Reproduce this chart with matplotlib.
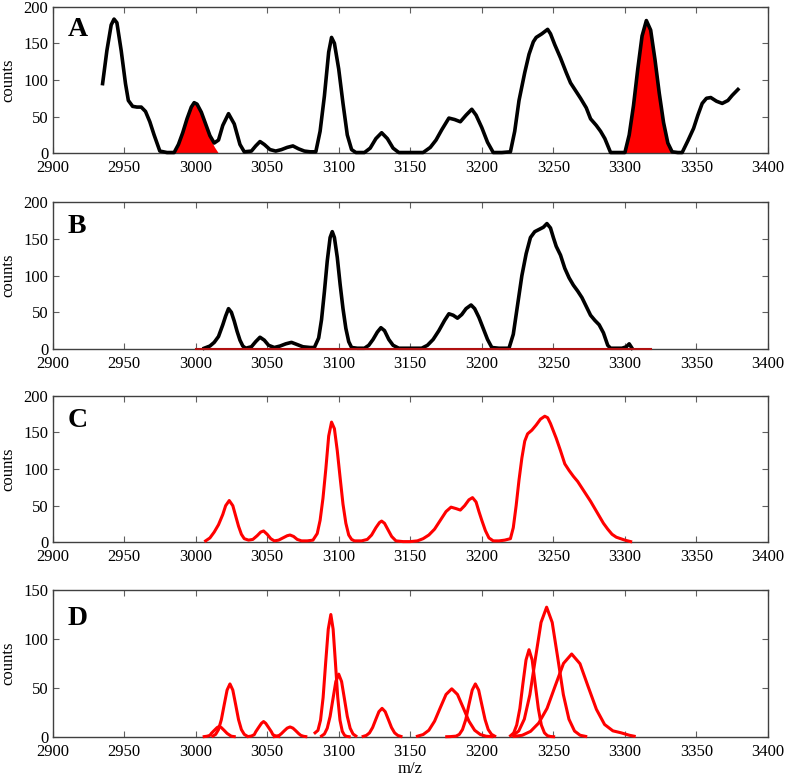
#!/usr/bin/env python3
# -*- coding: utf-8 -*-

"""
Mass spectrum deconvolution figure (4 panels, A-D)
- A: raw spectrum with two removed peaks filled in red
- B: spectrum after removal, red baseline
- C: fitted total
- D: individual fitted components
"""

import matplotlib
matplotlib.use("Agg")
import matplotlib.pyplot as plt

# -------------------------------
# Panel A: raw spectrum (black) and removed peaks (red fill)
# -------------------------------
mz_a = [2935, 2938, 2941, 2943, 2945, 2948, 2951, 2953, 2956, 2959, 2962, 2965,
        2968, 2971, 2975, 2980, 2985, 2988, 2991, 2994, 2997, 2999, 3001, 3004,
        3007, 3010, 3013, 3016, 3019, 3023, 3027, 3031, 3034, 3039, 3042, 3045,
        3048, 3052, 3056, 3060, 3064, 3068, 3072, 3076, 3080, 3084, 3087, 3090,
        3093, 3095, 3097, 3100, 3103, 3106, 3109, 3112, 3118, 3122, 3126, 3130,
        3134, 3138, 3142, 3150, 3159, 3164, 3168, 3172, 3177, 3181, 3185, 3189,
        3193, 3196, 3200, 3204, 3208, 3214, 3220, 3223, 3226, 3230, 3233, 3236,
        3238, 3242, 3246, 3248, 3251, 3255, 3259, 3262, 3266, 3269, 3273, 3276,
        3280, 3283, 3286, 3290, 3295, 3300, 3303, 3306, 3309, 3312, 3315, 3318,
        3321, 3324, 3327, 3330, 3333, 3337, 3340, 3344, 3348, 3351, 3354, 3357,
        3360, 3364, 3368, 3372, 3375, 3379]
counts_a = [95, 140, 175, 183, 178, 140, 95, 72, 64, 63, 63, 57,
            43, 25, 3, 1, 1, 12, 28, 47, 63, 69, 67, 56,
            40, 24, 14, 18, 38, 54, 40, 12, 2, 3, 10, 16,
            12, 5, 3, 5, 8, 10, 6, 3, 2, 2, 30, 78,
            138, 158, 150, 115, 68, 25, 5, 1, 1, 7, 20, 28,
            20, 7, 1, 1, 1, 8, 18, 32, 48, 46, 43, 52,
            60, 52, 35, 15, 1, 1, 2, 30, 72, 110, 135, 152,
            158, 163, 169, 163, 148, 130, 110, 96, 84, 75, 62, 47,
            38, 30, 20, 1, 1, 1, 25, 65, 115, 160, 181, 168,
            128, 82, 42, 14, 2, 1, 1, 17, 34, 52, 68, 75,
            76, 71, 68, 72, 79, 87]

peak1_mz = [2985, 2988, 2991, 2994, 2997, 2999, 3001, 3004, 3007, 3010, 3013, 3016]
peak1_counts = [0, 12, 28, 47, 63, 69, 67, 56, 38, 21, 9, 0]

peak2_mz = [3300, 3303, 3306, 3309, 3312, 3315, 3318, 3321, 3324, 3327, 3330, 3333]
peak2_counts = [0, 25, 65, 115, 160, 181, 168, 128, 82, 42, 14, 0]

# -------------------------------
# Panel B: spectrum after peak removal
# -------------------------------
mz_b = [3006, 3010, 3013, 3016, 3019, 3021, 3023, 3025, 3027, 3029, 3031, 3033,
        3035, 3039, 3042, 3045, 3048, 3051, 3055, 3059, 3063, 3067, 3071, 3075,
        3080, 3083, 3086, 3088, 3090, 3092, 3094, 3095.5, 3097, 3099, 3101, 3103,
        3105, 3107, 3109, 3113, 3118, 3121, 3124, 3127, 3129.5, 3132, 3135, 3138,
        3142, 3150, 3158, 3162, 3166, 3170, 3174, 3177, 3180, 3183, 3186, 3189,
        3192.5, 3195, 3198, 3201, 3204, 3207, 3212, 3219, 3222, 3225, 3228, 3231,
        3234, 3237, 3240, 3243, 3245.5, 3248, 3250, 3252, 3255, 3258, 3261, 3264,
        3267, 3270, 3273, 3276, 3279, 3282, 3285, 3288, 3290, 3298, 3301, 3303,
        3305]
counts_b = [1, 4, 9, 17, 33, 45, 55, 50, 38, 24, 12, 4,
            1, 3, 10, 16, 12, 5, 2, 4, 7, 9, 6, 3,
            2, 2, 15, 40, 78, 120, 152, 160, 152, 125, 88, 55,
            28, 10, 2, 1, 1, 5, 13, 23, 29, 25, 13, 5,
            1, 1, 1, 5, 13, 25, 39, 48, 46, 42, 47, 55,
            60, 55, 43, 28, 13, 2, 1, 1, 20, 60, 100, 130,
            152, 160, 163, 166, 171, 165, 152, 140, 128, 110, 97, 87,
            79, 70, 58, 46, 39, 33, 22, 5, 1, 1, 3, 7,
            1]

baseline_mz = [3000, 3318]
baseline_counts = [0, 0]

# -------------------------------
# Panel C: fitted total
# -------------------------------
mz_c = [3007, 3010, 3013, 3016, 3019, 3021, 3023.5, 3026, 3028, 3030, 3032, 3034,
        3037, 3040, 3043, 3045.5, 3047.5, 3050, 3052.5, 3055, 3058, 3061, 3064, 3066,
        3068.5, 3071, 3074, 3078, 3082, 3085, 3087, 3089, 3091, 3093, 3095, 3097,
        3099, 3101, 3103, 3105, 3107, 3109, 3111, 3116, 3120, 3123, 3126, 3128.5,
        3130, 3132, 3134.5, 3137, 3140, 3145, 3150, 3155, 3159, 3163, 3167, 3171,
        3175, 3178.5, 3182, 3185, 3188, 3191, 3193.5, 3196, 3198, 3200, 3202.5, 3205,
        3208, 3212, 3216, 3220, 3222, 3224, 3226, 3228, 3230, 3232, 3235, 3238,
        3241, 3244, 3246, 3248, 3250, 3252, 3255, 3258, 3261, 3264, 3267, 3270,
        3273, 3276, 3279, 3282, 3285, 3288, 3291, 3294, 3297, 3300, 3304]
counts_c = [2, 6, 14, 24, 38, 50, 57, 50, 36, 22, 11, 5,
            3, 4, 9, 14, 15.5, 11, 5, 2, 3, 6, 9, 10,
            8, 4, 2, 2, 3, 12, 30, 60, 100, 145, 164, 155,
            125, 88, 52, 26, 10, 4, 2, 2, 4, 10, 20, 27,
            29, 26, 17, 8, 2, 1, 1, 2, 5, 10, 18, 30,
            42, 48, 46, 44, 50, 58, 61, 55, 42, 30, 16, 6,
            2, 2, 3, 5, 20, 50, 85, 115, 138, 148, 153, 160,
            168, 172, 170, 162, 152, 142, 125, 107, 98, 90, 83, 74,
            65, 56, 46, 36, 26, 18, 11, 7, 5, 3, 1]

# -------------------------------
# Panel D: individual components
# -------------------------------
d1_mz = [3006, 3008, 3010, 3011, 3013, 3015, 3016.5, 3018, 3020, 3022, 3024, 3025, 3027]
d1_counts = [0.1, 0.5, 1.4, 3.4, 6.4, 9.3, 10.5, 9.3, 6.4, 3.4, 1.4, 0.5, 0.1]

d2_mz = [3012, 3014, 3016, 3018, 3020, 3022, 3024, 3026, 3028, 3030, 3032, 3034, 3036]
d2_counts = [0.6, 2.4, 7.3, 17.5, 32.8, 47.7, 54, 47.7, 32.8, 17.5, 7.3, 2.4, 0.6]

d3_mz = [3037, 3039, 3041, 3042, 3044, 3046, 3047.5, 3049, 3051, 3053, 3054, 3056, 3058]
d3_counts = [0.2, 0.7, 2.1, 5.0, 9.4, 13.7, 15.5, 13.7, 9.4, 5.0, 2.1, 0.7, 0.2]

d4_mz = [3055, 3056.5, 3058.5, 3060, 3062, 3064, 3066, 3068, 3070, 3072, 3073.5, 3075.5, 3077]
d4_counts = [0.1, 0.4, 1.4, 3.2, 6.1, 8.8, 10, 8.8, 6.1, 3.2, 1.4, 0.4, 0.1]

d5_mz = [3083.5, 3085.5, 3087.3, 3089.1, 3090.9, 3092.7, 3094.5, 3096.1, 3097.7,
         3099.3, 3100.9, 3102.5, 3104.1, 3105.7, 3107.3]
d5_counts = [4, 6.5, 17, 40, 76, 110, 125, 110, 76, 40.6, 16.9, 5.5, 1.4, 0.3, 0]

d6_mz = [3088, 3090, 3092, 3094, 3096, 3098, 3100, 3102, 3104, 3106, 3108, 3110, 3112]
d6_counts = [0.7, 2.8, 8.7, 20.8, 38.8, 56.5, 64, 56.5, 38.8, 20.8, 8.7, 2.8, 0.7]

d7_mz = [3117.1, 3119.3, 3121.5, 3123.7, 3125.9, 3128.1, 3130.3, 3132.5, 3134.7,
         3136.9, 3139.1, 3141.3, 3143.5]
d7_counts = [0.3, 1.3, 3.9, 9.4, 17.6, 25.6, 29, 25.6, 17.6, 9.4, 3.9, 1.3, 0.3]

d8_mz = [3155, 3159, 3163, 3167, 3171, 3175, 3179, 3183, 3187, 3191, 3195, 3199, 3203, 3207]
d8_counts = [0.5, 2.2, 6.6, 15.9, 29.7, 43.2, 49, 43.2, 29.7, 15.9, 6.6, 2.2, 0.5, 0.1]

d9_mz = [3175.5, 3178, 3182, 3184.3, 3186.5, 3188.8, 3191, 3193.3, 3195.5, 3197.8,
         3200, 3202.3, 3204.5, 3206.8, 3209]
d9_counts = [0, 0.1, 0.6, 2.4, 7.3, 17.5, 32.8, 47.7, 54, 47.7, 32.8, 17.5, 7.3, 2.4, 0.6]

d10_mz = [3220.1, 3222.3, 3224.4, 3226.6, 3228.7, 3230.9, 3233, 3235.2, 3237.3,
          3239.5, 3241.6, 3243.8, 3245.9, 3248.1, 3250.2]
d10_counts = [1.0, 3.9, 12.0, 28.9, 54.0, 78.5, 89, 78.5, 54.0, 28.9, 12.0, 3.9, 1.0, 0.2, 0]

d11_mz = [3221.9, 3225.8, 3229.7, 3233.6, 3237.5, 3241.4, 3245.3, 3249.2, 3253.1,
          3257.0, 3260.9, 3264.8, 3268.7, 3272.6]
d11_counts = [1.5, 5.8, 17.9, 43.0, 80.4, 116.9, 132.5, 116.9, 80.4, 43.0, 17.9, 5.8, 1.5, 0.3]

d12_mz = [3222.6, 3228.3, 3234.1, 3239.8, 3245.6, 3251.3, 3257.1, 3262.8, 3268.6,
          3274.3, 3280.1, 3285.8, 3291.6, 3297.3, 3303.1, 3306.5]
d12_counts = [0.3, 1.5, 5.5, 14, 29, 52, 75, 84.6, 74.7, 51.3, 28, 12.5, 6, 4, 1.5, 0.5]

D_MZ = [d1_mz, d2_mz, d3_mz, d4_mz, d5_mz, d6_mz, d7_mz, d8_mz, d9_mz, d10_mz, d11_mz, d12_mz]
D_COUNTS = [d1_counts, d2_counts, d3_counts, d4_counts, d5_counts, d6_counts,
            d7_counts, d8_counts, d9_counts, d10_counts, d11_counts, d12_counts]

PANELS = ["A", "B", "C", "D"]
YMAX = [200, 200, 200, 150]
XTICKS = [2900, 2950, 3000, 3050, 3100, 3150, 3200, 3250, 3300, 3350, 3400]

# -------------------------------
# Estilo
# -------------------------------
plt.rcParams["font.family"] = ["Liberation Serif", "DejaVu Serif"]
plt.rcParams["font.size"] = 12

fig = plt.figure(figsize=(7.86, 7.80), dpi=100)

left, width, height = 0.0668, 0.9103, 0.188
bottoms = [0.8035, 0.5526, 0.3047, 0.0555]
letter_y = [0.80, 0.79, 0.786, 0.76]

axes = []
for i, b in enumerate(bottoms):
    ax = fig.add_axes([left, b, width, height])
    ax.set_xlim(2900, 3400)
    ax.set_ylim(0, YMAX[i])
    ax.set_xticks(XTICKS)
    ax.set_yticks(list(range(0, YMAX[i] + 1, 50)))
    ax.tick_params(direction="in", length=4, width=0.8, color="#606060",
                   top=True, right=True, labelsize=12)
    ax.tick_params(axis="x", pad=5)
    ax.tick_params(axis="y", pad=3)
    for s in ax.spines.values():
        s.set_color("#404040")
        s.set_linewidth(1.0)
    ax.set_ylabel("counts", fontsize=12)
    ax.yaxis.set_label_coords(-0.050, 0.5)
    ax.text(0.021, letter_y[i], PANELS[i], transform=ax.transAxes,
            fontsize=20, fontweight="bold", va="baseline", ha="left")
    axes.append(ax)

axA, axB, axC, axD = axes

# A
axA.fill_between(peak1_mz, peak1_counts, 0, color="#ff0000", lw=0, zorder=2)
axA.fill_between(peak2_mz, peak2_counts, 0, color="#ff0000", lw=0, zorder=2)
axA.plot(mz_a, counts_a, color="black", lw=2.6, zorder=3, clip_on=False,
         solid_joinstyle="round")

# B
axB.plot(mz_b, counts_b, color="black", lw=2.6, zorder=3, clip_on=False,
         solid_joinstyle="round")
axB.plot(baseline_mz, baseline_counts, color="#b01010", lw=1.5, zorder=4, clip_on=False)

# C
axC.plot(mz_c, counts_c, color="#ff0000", lw=2.2, zorder=3, clip_on=False,
         solid_joinstyle="round")

# D
for xs, ys in zip(D_MZ, D_COUNTS):
    axD.plot(xs, ys, color="#ff0000", lw=2.2, zorder=3, clip_on=False,
             solid_joinstyle="round")

axD.set_xlabel("m/z", fontsize=12)
axD.xaxis.set_label_coords(0.5, -0.165)

fig.savefig("out.png", dpi=100)
